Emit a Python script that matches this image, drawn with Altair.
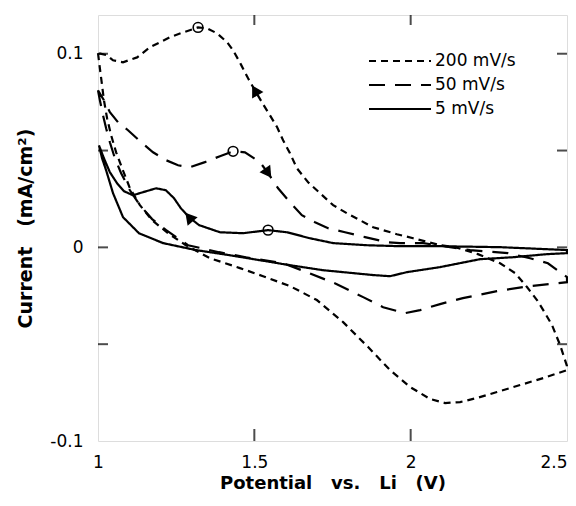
import altair as alt
import pandas as pd

# ---------------- data ----------------
series_names = ["200 mV/s", "50 mV/s", "5 mV/s"]

# 200 mV/s : forward branch (left -> right) and return branch (right -> left)
x200_fwd = [1.000, 1.006, 1.013, 1.019, 1.029, 1.042, 1.058, 1.077, 1.102, 1.134,
            1.173, 1.224, 1.281, 1.358, 1.454, 1.528, 1.614, 1.700, 1.784, 1.864,
            1.934, 1.998, 2.062, 2.110, 2.158, 2.212, 2.276, 2.350, 2.424, 2.500]
y200_fwd = [0.1003, 0.0925, 0.0837, 0.0760, 0.0667, 0.0579, 0.0491, 0.0409, 0.0306, 0.0218,
            0.0140, 0.0073, 0.0011, -0.0056, -0.0107, -0.0149, -0.0200, -0.0272, -0.0386, -0.0515,
            -0.0634, -0.0721, -0.0783, -0.0804, -0.0799, -0.0778, -0.0747, -0.0711, -0.0675, -0.0634]
x200_ret = [2.500, 2.478, 2.452, 2.424, 2.404, 2.372, 2.334, 2.286, 2.215, 2.142,
            2.094, 2.008, 1.956, 1.880, 1.838, 1.796, 1.752, 1.710, 1.672, 1.636,
            1.614, 1.592, 1.573, 1.550, 1.528, 1.502, 1.480, 1.457, 1.432, 1.413,
            1.381, 1.349, 1.320, 1.272, 1.230, 1.166, 1.125, 1.080, 1.048, 1.029, 1.000]
y200_ret = [-0.0613, -0.0505, -0.0401, -0.0324, -0.0272, -0.0205, -0.0133, -0.0082, -0.0035, 0.0001,
            0.0011, 0.0047, 0.0068, 0.0104, 0.0140, 0.0176, 0.0218, 0.0280, 0.0336, 0.0409,
            0.0486, 0.0553, 0.0620, 0.0682, 0.0739, 0.0811, 0.0873, 0.0945, 0.1018, 0.1059,
            0.1105, 0.1131, 0.1136, 0.1110, 0.1085, 0.1033, 0.0981, 0.0956, 0.0966, 0.0992, 0.1003]

# 50 mV/s
x50_fwd = [1.000, 1.006, 1.016, 1.026, 1.038, 1.054, 1.074, 1.102, 1.134, 1.173,
           1.218, 1.288, 1.387, 1.473, 1.592, 1.668, 1.764, 1.848, 1.912, 1.982,
           2.030, 2.094, 2.167, 2.276, 2.382, 2.500]
y50_fwd = [0.0811, 0.0760, 0.0682, 0.0615, 0.0543, 0.0460, 0.0383, 0.0295, 0.0218, 0.0146,
           0.0089, 0.0011, -0.0025, -0.0051, -0.0082, -0.0128, -0.0190, -0.0257, -0.0309, -0.0340,
           -0.0324, -0.0293, -0.0262, -0.0226, -0.0200, -0.0180]
x50_ret = [2.500, 2.439, 2.382, 2.311, 2.190, 2.126, 2.040, 1.966, 1.924, 1.854,
           1.790, 1.736, 1.694, 1.652, 1.614, 1.576, 1.544, 1.518, 1.470, 1.432,
           1.390, 1.342, 1.294, 1.256, 1.218, 1.176, 1.131, 1.096, 1.064, 1.038, 1.019, 1.000]
y50_ret = [-0.0154, -0.0082, -0.0056, -0.0030, -0.0014, 0.0001, 0.0022, 0.0022, 0.0027, 0.0053,
           0.0078, 0.0099, 0.0130, 0.0166, 0.0233, 0.0305, 0.0383, 0.0440, 0.0491, 0.0496,
           0.0471, 0.0440, 0.0414, 0.0424, 0.0450, 0.0491, 0.0553, 0.0605, 0.0646, 0.0698, 0.0760, 0.0811]

# 5 mV/s
x5_fwd = [1.003, 1.013, 1.026, 1.048, 1.080, 1.131, 1.208, 1.313, 1.419, 1.614,
          1.720, 1.880, 1.934, 1.988, 2.094, 2.222, 2.327, 2.436, 2.500]
y5_fwd = [0.0527, 0.0460, 0.0398, 0.0280, 0.0156, 0.0073, 0.0022, -0.0014, -0.0040, -0.0092,
          -0.0118, -0.0143, -0.0149, -0.0128, -0.0102, -0.0061, -0.0051, -0.0035, -0.0030]
x5_ret = [2.500, 2.286, 2.094, 1.966, 1.860, 1.752, 1.678, 1.604, 1.544, 1.464,
          1.390, 1.323, 1.291, 1.265, 1.243, 1.217, 1.186, 1.144, 1.112, 1.083,
          1.061, 1.038, 1.019, 1.003]
y5_ret = [-0.0014, 0.0001, 0.0006, 0.0006, 0.0011, 0.0022, 0.0047, 0.0078, 0.0089, 0.0073,
          0.0078, 0.0115, 0.0156, 0.0202, 0.0254, 0.0295, 0.0305, 0.0285, 0.0269, 0.0290,
          0.0331, 0.0388, 0.0460, 0.0527]

# peak markers (open circles)
peak_x = [1.320, 1.432, 1.544]
peak_y = [0.1136, 0.0496, 0.0089]

# scan-direction arrows
arrow_x = [1.502, 1.544, 1.291]
arrow_y = [0.0811, 0.0383, 0.0156]
arrow_angle = [330, 145, 320]

# axis ticks
x_label_vals = [1, 1.5, 2, 2.5]
x_tick_vals = [1.5, 2]
y_label_vals = [-0.1, 0, 0.1]
y_tick_vals = [-0.05, 0, 0.05, 0.1]

# ---------------- build tables ----------------
rows = []
for name, xf, yf, xr, yr in [
    (series_names[0], x200_fwd, y200_fwd, x200_ret, y200_ret),
    (series_names[1], x50_fwd, y50_fwd, x50_ret, y50_ret),
    (series_names[2], x5_fwd, y5_fwd, x5_ret, y5_ret),
]:
    xs_all = xf + xr
    ys_all = yf + yr
    for i, (xv, yv) in enumerate(zip(xs_all, ys_all)):
        rows.append({"x": xv, "y": yv, "series": name, "i": i})
df = pd.DataFrame(rows)
peaks = pd.DataFrame({"x": peak_x, "y": peak_y})
arrows = pd.DataFrame({"x": arrow_x, "y": arrow_y, "a": arrow_angle})
xticks = pd.DataFrame({"x": x_tick_vals})
yticks = pd.DataFrame({"y": y_tick_vals})

W, H = 469, 426
FONT = "DejaVu Sans"
xscale = alt.Scale(domain=[1, 2.5], nice=False, zero=False)
yscale = alt.Scale(domain=[-0.1, 0.12], nice=False, zero=False)

x_enc = alt.X("x:Q", scale=xscale,
              axis=alt.Axis(values=x_label_vals, ticks=False, tickSize=0, domain=False, grid=False,
                            labelExpr="toString(datum.value)", labelPadding=13, labelFlush=False,
                            labelAlign={"condition": {"test": "datum.value == 2.5", "value": "right"},
                                        "value": "center"},
                            labelFontSize=17, labelFont=FONT, labelColor="black",
                            title="Potential\u00a0\u00a0 vs.\u00a0\u00a0 Li\u00a0\u00a0 (V)",
                            titleFont=FONT, titleFontSize=18, titleFontWeight="bold",
                            titleColor="black", titlePadding=4))
y_enc = alt.Y("y:Q", scale=yscale,
              axis=alt.Axis(values=y_label_vals, ticks=False, tickSize=0, domain=False, grid=False,
                            labelExpr="toString(datum.value)", labelPadding=15,
                            labelFontSize=17, labelFont=FONT, labelColor="black",
                            title="Current\u00a0\u00a0 (mA/cm²)",
                            titleFont=FONT, titleFontSize=19, titleFontWeight="bold",
                            titleColor="black", titlePadding=14))

lines = alt.Chart(df).mark_line(color="black", strokeWidth=2.2, strokeCap="butt").encode(
    x=x_enc,
    y=y_enc,
    strokeDash=alt.StrokeDash("series:N",
                              scale=alt.Scale(domain=series_names, range=[[7, 5], [16, 10], [1, 0]]),
                              legend=alt.Legend(orient="none", legendX=270, legendY=35, title=None,
                                                symbolType="M-1,0H5.2", symbolSize=400,
                                                symbolStrokeWidth=2, symbolStrokeColor="black",
                                                labelFont=FONT, labelFontSize=17, labelColor="black",
                                                labelOffset=45, rowPadding=5, padding=0)),
    order=alt.Order("i:Q"),
)

circ = alt.Chart(peaks).mark_point(shape="circle", filled=False, color="black", size=95,
                                   strokeWidth=1.6, opacity=1).encode(x="x:Q", y="y:Q")

arr = alt.Chart(arrows).mark_point(shape="triangle-up", filled=True, color="black",
                                   size=170, opacity=1).encode(
    x="x:Q", y="y:Q",
    angle=alt.Angle("a:Q", scale=alt.Scale(domain=[0, 360], range=[0, 360])),
)

# inward tick marks on all four sides of the frame
tick_x_bottom = alt.Chart(xticks).mark_tick(color="black", thickness=2, size=12).encode(
    x="x:Q", y=alt.value(H - 6))
tick_x_top = alt.Chart(xticks).mark_tick(color="black", thickness=2, size=10).encode(
    x="x:Q", y=alt.value(5))
tick_y_left = alt.Chart(yticks).mark_tick(color="black", thickness=2, size=10).encode(
    y="y:Q", x=alt.value(5))
tick_y_right = alt.Chart(yticks).mark_tick(color="black", thickness=2, size=10).encode(
    y="y:Q", x=alt.value(W - 5))

chart = alt.layer(lines, circ, arr, tick_x_bottom, tick_x_top, tick_y_left, tick_y_right).properties(
    width=W, height=H,
    autosize=alt.AutoSizeParams(type="none"),
    padding={"left": 90, "top": 7, "right": 1, "bottom": 52},
).configure_view(stroke="black", strokeWidth=2).configure(background="white")

chart.save("out.html", embed_options={"renderer": "svg", "actions": False})
